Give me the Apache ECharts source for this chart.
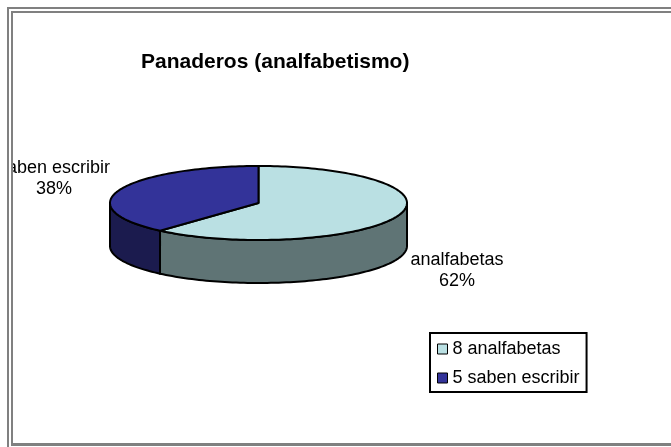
<!DOCTYPE html>
<html>
<head>
<meta charset="utf-8">
<script src="https://cdn.jsdelivr.net/npm/echarts@6/dist/echarts.min.js"></script>
<style>
html,body{margin:0;padding:0;background:#fff;}
#chart{width:671px;height:447px;}
</style>
</head>
<body>
<div id="chart"></div>
<script>
// ---- data ----
const titleText = 'Panaderos (analfabetismo)';
const categories = ['analfabetas', 'saben escribir'];
const counts = [8, 5];
const topColors = ['#BAE0E3', '#333399'];
const sideColors = ['#5F7475', '#1B1B4E'];

// ---- layout ----
const FONT = '"Liberation Sans", Arial, sans-serif';
const PIE = { cx: 258.5, cy: 203, rx: 148.5, ry: 37, depth: 43 };
const labelPos = [[457, 271], [54, 179]];
const total = counts.reduce((a, b) => a + b, 0);

function pt(deg, dy) {
  const r = deg * Math.PI / 180;
  return [PIE.cx + PIE.rx * Math.cos(r), PIE.cy + PIE.ry * Math.sin(r) + (dy || 0)];
}
function arc(a, b, dy) {
  const pts = [];
  const n = Math.max(2, Math.ceil(Math.abs(b - a) / 1.5));
  for (let k = 0; k <= n; k++) pts.push(pt(a + (b - a) * k / n, dy));
  return pts;
}

function makeRender(i) {
  return function (params, api) {
    const v = api.value(0);
    let before = 0;
    for (let j = 0; j < i; j++) before += counts[j];
    const start = -90 + 360 * before / total;
    const end = start + 360 * v / total;
    const children = [];
    const s = Math.max(start, 0), e = Math.min(end, 180);
    if (e > s) {
      const pts = arc(s, e, 0).concat(arc(e, s, PIE.depth));
      children.push({
        type: 'polygon',
        shape: { points: pts },
        style: { fill: sideColors[i], stroke: '#000', lineWidth: 2, lineJoin: 'round' }
      });
    }
    const topPts = [[PIE.cx, PIE.cy]].concat(arc(start, end, 0));
    children.push({
      type: 'polygon',
      shape: { points: topPts },
      style: { fill: topColors[i], stroke: '#000', lineWidth: 2, lineJoin: 'round' }
    });
    return { type: 'group', children: children };
  };
}

const series = categories.map((name, i) => ({
  type: 'custom',
  name: name,
  coordinateSystem: 'none',
  silent: true,
  itemStyle: { color: topColors[i] },
  renderItem: makeRender(i),
  data: [counts[i]]
}));

const graphics = [];
categories.forEach((name, i) => {
  graphics.push({
    type: 'text',
    x: labelPos[i][0], y: labelPos[i][1],
    style: {
      text: name + '\n' + Math.round(counts[i] / total * 100) + '%',
      font: '18px ' + FONT,
      fill: '#000',
      align: 'center',
      verticalAlign: 'middle',
      lineHeight: 21
    },
    z: 10
  });
});
// clip area left of inner frame + frame lines
graphics.push({ type: 'rect', shape: { x: 0, y: 0, width: 11, height: 447 }, style: { fill: '#fff' }, z: 20 });
const frame = [
  [7, 7, 2, 440], [7, 7, 664, 2],
  [11, 11, 2, 434], [11, 11, 660, 2],
  [11, 443, 660, 3]
];
frame.forEach(r => graphics.push({
  type: 'rect', shape: { x: r[0], y: r[1], width: r[2], height: r[3] },
  style: { fill: '#808080' }, z: 21
}));

const chart = echarts.init(document.getElementById('chart'), null, { renderer: 'canvas' });
chart.setOption({
  animation: false,
  backgroundColor: '#fff',
  title: {
    text: titleText,
    left: 136, top: 47,
    textStyle: { fontFamily: FONT, fontSize: 21, fontWeight: 'bold', color: '#000' }
  },
  legend: {
    orient: 'vertical',
    left: 430, top: 333,
    padding: [7, 7, 5, 7],
    itemGap: 11,
    itemWidth: 10, itemHeight: 10,
    icon: 'rect',
    selectedMode: false,
    borderColor: '#000', borderWidth: 2,
    itemStyle: { borderColor: '#000', borderWidth: 1 },
    textStyle: { fontFamily: FONT, fontSize: 18, color: '#000', lineHeight: 18 },
    formatter: function (name) { return counts[categories.indexOf(name)] + ' ' + name; },
    data: categories
  },
  series: series,
  graphic: graphics
});
</script>
</body>
</html>
